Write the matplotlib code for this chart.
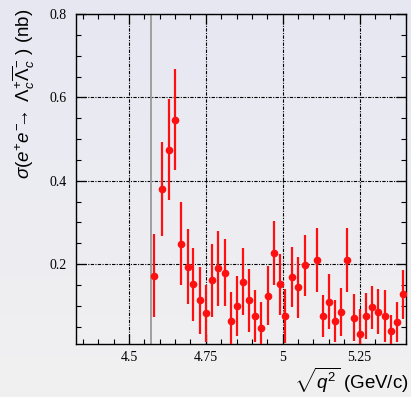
import matplotlib
matplotlib.use("Agg")
import matplotlib.pyplot as plt
import numpy as np
from matplotlib.ticker import MultipleLocator
from matplotlib.colors import LinearSegmentedColormap

# sqrt(q^2) points (GeV/c) and cross section (nb) with errors
energy = [4.581, 4.608, 4.630, 4.649, 4.671, 4.691, 4.710, 4.732, 4.751, 4.770,
          4.790, 4.811, 4.831, 4.851, 4.872, 4.890, 4.910, 4.930, 4.951, 4.971,
          4.992, 5.009, 5.030, 5.050, 5.071, 5.111, 5.132, 5.150, 5.171, 5.190,
          5.210, 5.232, 5.251, 5.270, 5.290, 5.311, 5.332, 5.352, 5.371, 5.392]
sigma = [0.172, 0.380, 0.474, 0.546, 0.249, 0.193, 0.151, 0.113, 0.082, 0.161,
         0.190, 0.179, 0.064, 0.099, 0.158, 0.113, 0.075, 0.047, 0.124, 0.227,
         0.151, 0.075, 0.169, 0.144, 0.197, 0.210, 0.075, 0.110, 0.064, 0.085,
         0.210, 0.071, 0.033, 0.075, 0.096, 0.085, 0.075, 0.040, 0.061, 0.127]
sigma_err = [0.100, 0.112, 0.121, 0.121, 0.100, 0.090, 0.087, 0.080, 0.068, 0.087,
             0.090, 0.080, 0.070, 0.072, 0.080, 0.076, 0.062, 0.062, 0.071, 0.077,
             0.074, 0.065, 0.073, 0.073, 0.073, 0.077, 0.050, 0.066, 0.050, 0.058,
             0.077, 0.056, 0.058, 0.056, 0.052, 0.054, 0.062, 0.038, 0.048, 0.059]
threshold = 4.5725

xticks = [4.5, 4.75, 5, 5.25]
xticklabels = ["4.5", "4.75", "5", "5.25"]
yticks = [0.2, 0.4, 0.6, 0.8]

plt.rcParams['mathtext.fontset'] = 'custom'
plt.rcParams['mathtext.rm'] = 'Liberation Sans'
plt.rcParams['mathtext.it'] = 'Liberation Sans:italic'
plt.rcParams['mathtext.sf'] = 'Liberation Sans'

fig = plt.figure(figsize=(4.11, 3.97), dpi=100)

# light background gradient (lavender top -> grey bottom)
bg = fig.add_axes([0, 0, 1, 1], zorder=-10)
cmap = LinearSegmentedColormap.from_list("bg", ["#f1f1f1", "#e7e7f3"])
bg.imshow(np.linspace(0, 1, 256).reshape(-1, 1), aspect='auto', cmap=cmap,
          origin='lower', extent=[0, 1, 0, 1])
bg.axis('off')

ax = fig.add_axes([76/411, 1-344/397, 330/411, 330/397])
ax.set_facecolor('none')

ax.axvline(threshold, color='#999999', lw=1.3, zorder=2)
ax.errorbar(energy, sigma, yerr=sigma_err, fmt='o', color='#ff1010',
            ms=4.5, elinewidth=1.6, capsize=0, zorder=4)

ax.set_xlim(4.328, 5.401)
ax.set_ylim(0.008, 0.8)
ax.set_xticks(xticks)
ax.set_xticklabels(xticklabels)
ax.set_yticks(yticks)
ax.set_yticklabels(["0.2", "0.4", "0.6", "0.8"])
ax.xaxis.set_minor_locator(MultipleLocator(0.05))
ax.yaxis.set_minor_locator(MultipleLocator(0.05))

ax.grid(True, which='major', color='black', lw=0.8, linestyle=(0, (3, 1.2, 1, 1.2)))
ax.tick_params(which='both', direction='in', top=True, right=True,
               labelfontfamily='Liberation Serif', labelsize=10)
ax.tick_params(which='major', length=7, width=0.9)
ax.tick_params(which='minor', length=3.5, width=0.8)
ax.tick_params(axis='x', pad=5)
ax.tick_params(axis='y', pad=7)
for s in ax.spines.values():
    s.set_linewidth(1.0)

fig.text(10/411, 1-9/397,
         r'$\sigma(e^{+}e^{-}\!\!\!\rightarrow\;\Lambda_{c}^{+}\overline{\Lambda}_{c}^{-}$ ) (nb)',
         rotation=90, ha='left', va='top', fontsize=13.5, family='Liberation Sans')
fig.text(409/411, 2/397, r'$\sqrt{q^{2}}$ (GeV/c)', ha='right', va='bottom',
         fontsize=13.5, family='Liberation Sans')

fig.savefig("out.png", dpi=100)
